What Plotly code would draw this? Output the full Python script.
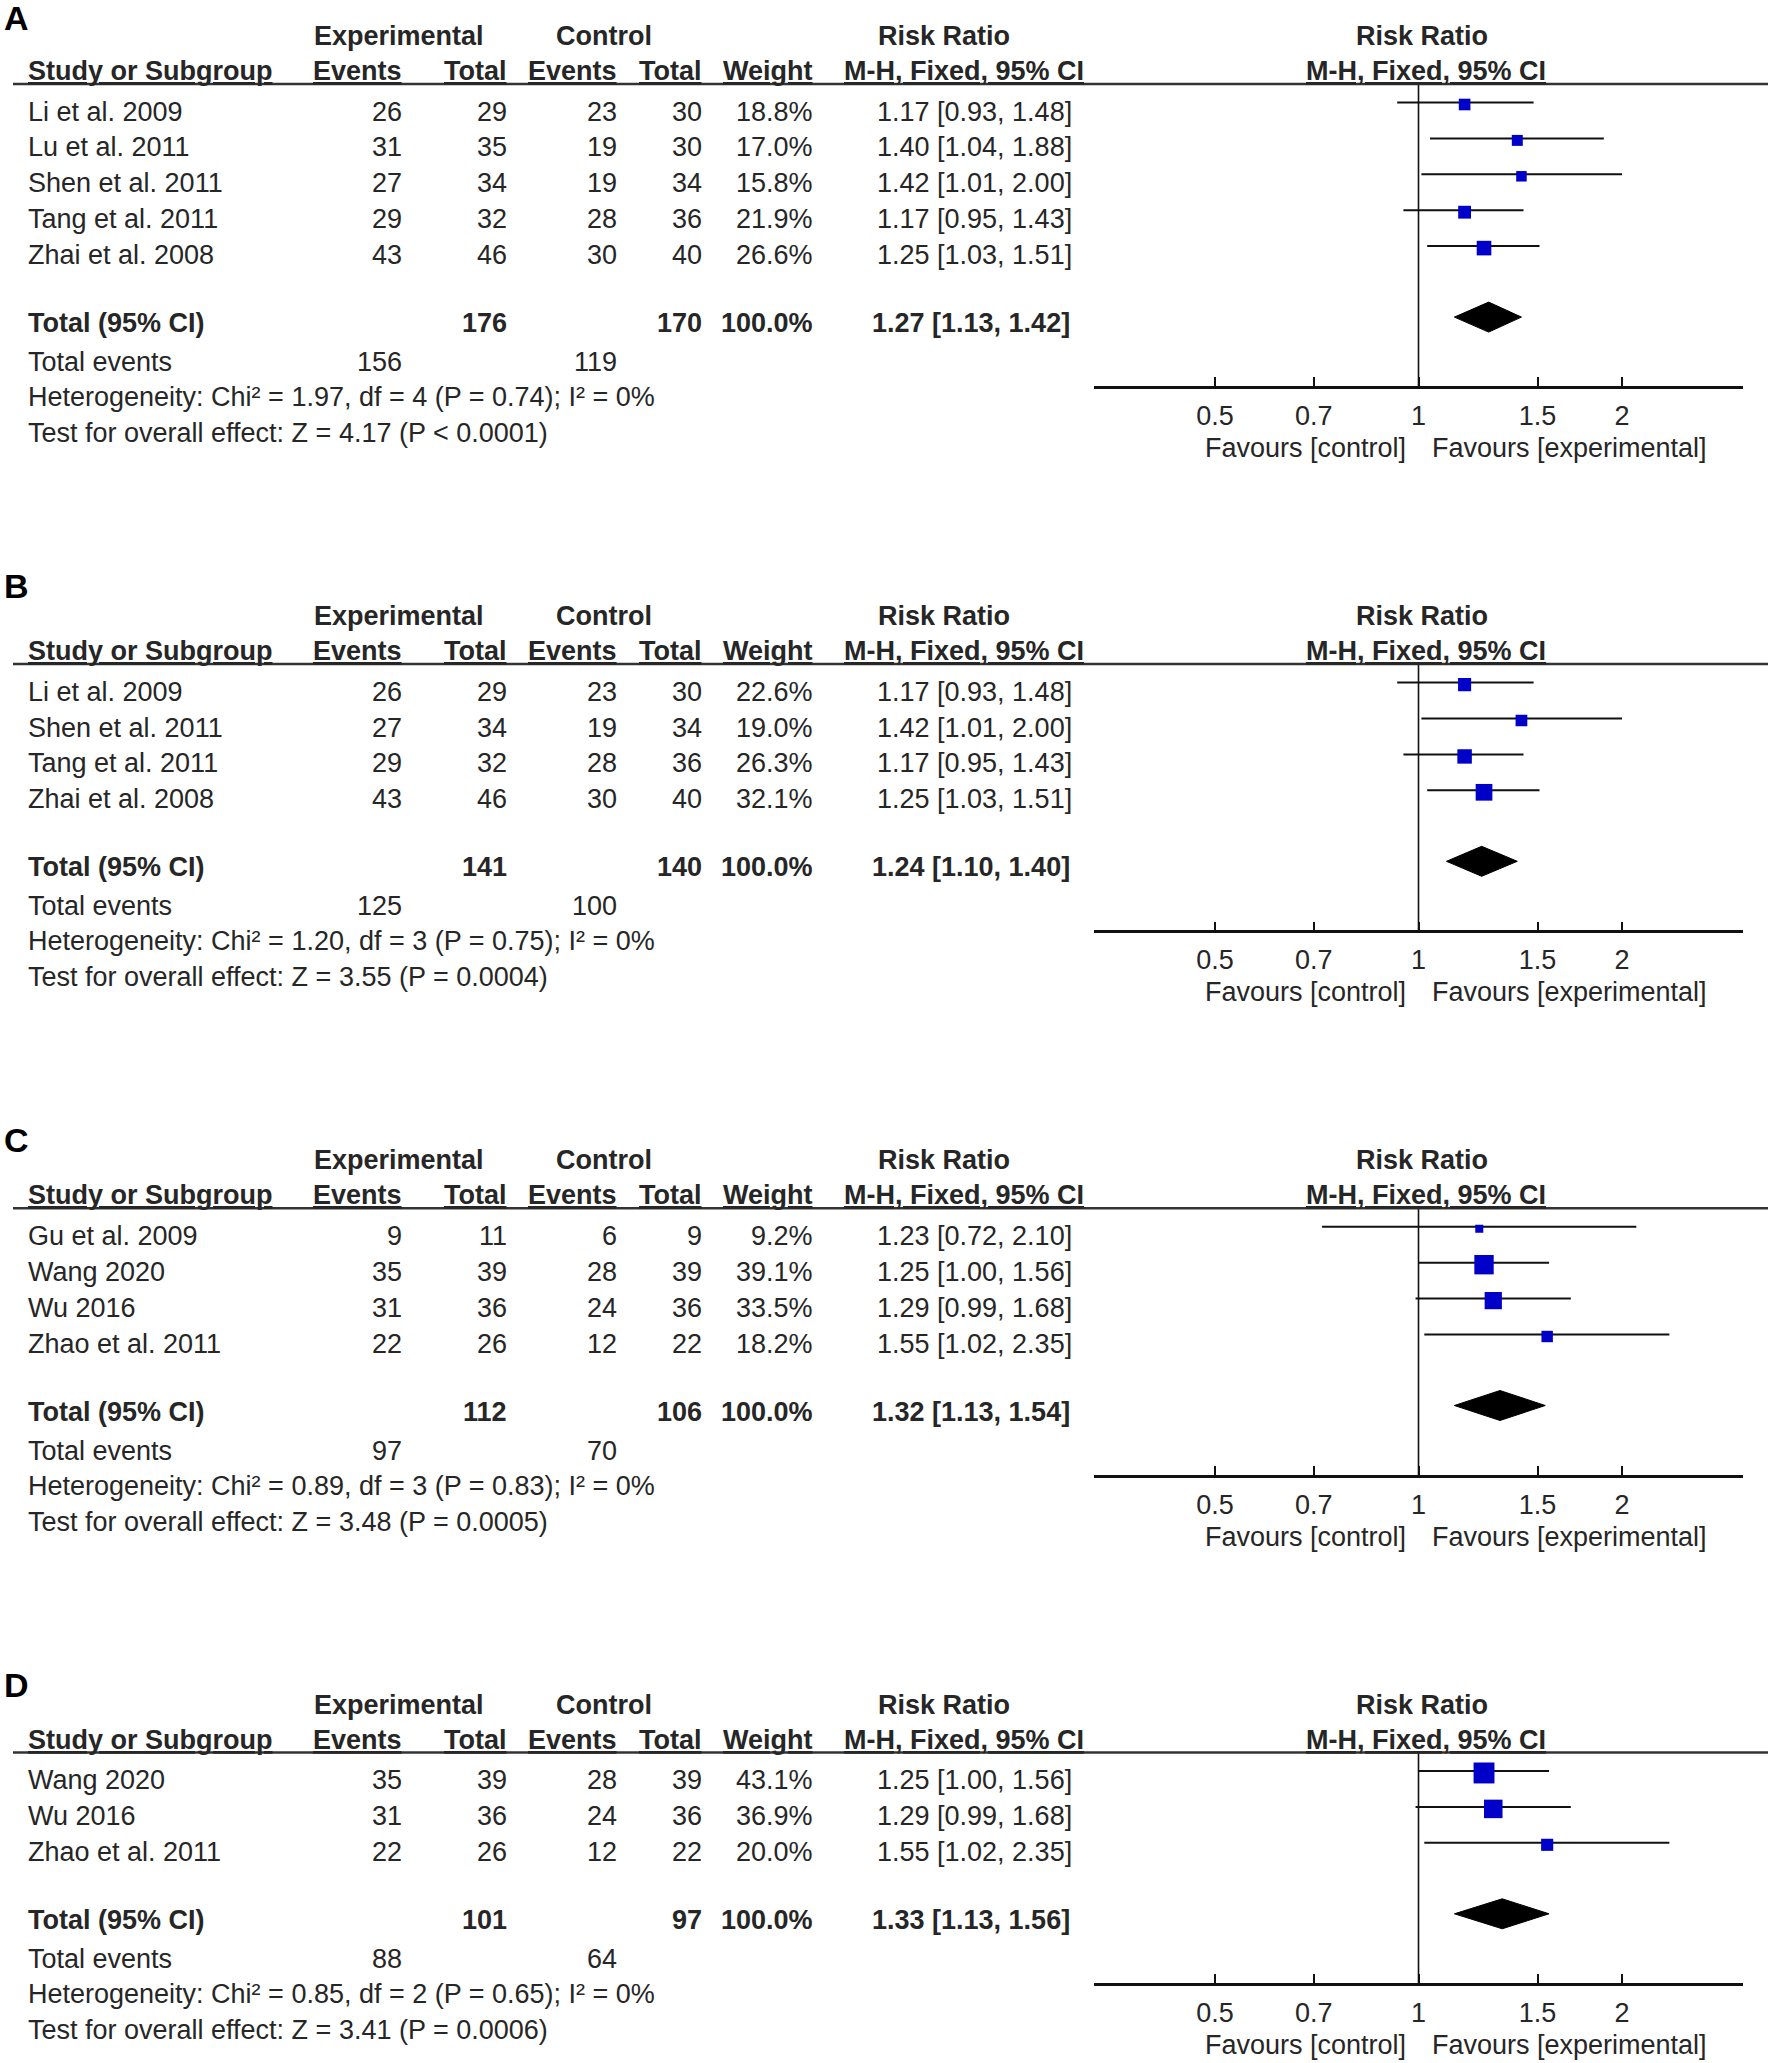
import plotly.graph_objects as go

# ---------------- data ----------------
# Panel A
a_studies = ["Li et al. 2009", "Lu et al. 2011", "Shen et al. 2011", "Tang et al. 2011", "Zhai et al. 2008"]
a_exp_events = [26, 31, 27, 29, 43]
a_exp_total = [29, 35, 34, 32, 46]
a_ctl_events = [23, 19, 19, 28, 30]
a_ctl_total = [30, 30, 34, 36, 40]
a_weight = [18.8, 17.0, 15.8, 21.9, 26.6]
a_rr = [1.17, 1.40, 1.42, 1.17, 1.25]
a_lo = [0.93, 1.04, 1.01, 0.95, 1.03]
a_hi = [1.48, 1.88, 2.00, 1.43, 1.51]
a_summary = [176, 170, 100.0, 1.27, 1.13, 1.42]      # exp total, ctl total, weight, RR, lo, hi
a_events = [156, 119]
a_het = "Heterogeneity: Chi² = 1.97, df = 4 (P = 0.74); I² = 0%"
a_test = "Test for overall effect: Z = 4.17 (P < 0.0001)"

# Panel B
b_studies = ["Li et al. 2009", "Shen et al. 2011", "Tang et al. 2011", "Zhai et al. 2008"]
b_exp_events = [26, 27, 29, 43]
b_exp_total = [29, 34, 32, 46]
b_ctl_events = [23, 19, 28, 30]
b_ctl_total = [30, 34, 36, 40]
b_weight = [22.6, 19.0, 26.3, 32.1]
b_rr = [1.17, 1.42, 1.17, 1.25]
b_lo = [0.93, 1.01, 0.95, 1.03]
b_hi = [1.48, 2.00, 1.43, 1.51]
b_summary = [141, 140, 100.0, 1.24, 1.10, 1.40]
b_events = [125, 100]
b_het = "Heterogeneity: Chi² = 1.20, df = 3 (P = 0.75); I² = 0%"
b_test = "Test for overall effect: Z = 3.55 (P = 0.0004)"

# Panel C
c_studies = ["Gu et al. 2009", "Wang 2020", "Wu 2016", "Zhao et al. 2011"]
c_exp_events = [9, 35, 31, 22]
c_exp_total = [11, 39, 36, 26]
c_ctl_events = [6, 28, 24, 12]
c_ctl_total = [9, 39, 36, 22]
c_weight = [9.2, 39.1, 33.5, 18.2]
c_rr = [1.23, 1.25, 1.29, 1.55]
c_lo = [0.72, 1.00, 0.99, 1.02]
c_hi = [2.10, 1.56, 1.68, 2.35]
c_summary = [112, 106, 100.0, 1.32, 1.13, 1.54]
c_events = [97, 70]
c_het = "Heterogeneity: Chi² = 0.89, df = 3 (P = 0.83); I² = 0%"
c_test = "Test for overall effect: Z = 3.48 (P = 0.0005)"

# Panel D
d_studies = ["Wang 2020", "Wu 2016", "Zhao et al. 2011"]
d_exp_events = [35, 31, 22]
d_exp_total = [39, 36, 26]
d_ctl_events = [28, 24, 12]
d_ctl_total = [39, 36, 22]
d_weight = [43.1, 36.9, 20.0]
d_rr = [1.25, 1.29, 1.55]
d_lo = [1.00, 0.99, 1.02]
d_hi = [1.56, 1.68, 2.35]
d_summary = [101, 97, 100.0, 1.33, 1.13, 1.56]
d_events = [88, 64]
d_het = "Heterogeneity: Chi² = 0.85, df = 2 (P = 0.65); I² = 0%"
d_test = "Test for overall effect: Z = 3.41 (P = 0.0006)"

panel_labels = ["A", "B", "C", "D"]
tick_vals = [0.5, 0.7, 1, 1.5, 2]
tick_text = ["0.5", "0.7", "1", "1.5", "2"]

panels = [
    (a_studies, a_exp_events, a_exp_total, a_ctl_events, a_ctl_total, a_weight, a_rr, a_lo, a_hi, a_summary, a_events, a_het, a_test),
    (b_studies, b_exp_events, b_exp_total, b_ctl_events, b_ctl_total, b_weight, b_rr, b_lo, b_hi, b_summary, b_events, b_het, b_test),
    (c_studies, c_exp_events, c_exp_total, c_ctl_events, c_ctl_total, c_weight, c_rr, c_lo, c_hi, c_summary, c_events, c_het, c_test),
    (d_studies, d_exp_events, d_exp_total, d_ctl_events, d_ctl_total, d_weight, d_rr, d_lo, d_hi, d_summary, d_events, d_het, d_test),
]

# ---------------- layout constants (pixels) ----------------
W, HT = 1772, 2063
FONT = "Liberation Sans, Arial, Helvetica, sans-serif"
TXT = "#262626"
FS = 27
BLUE = "#0000C8"
LABEL_DY = [-66, -78, -68, -68]

FIRST_ROW = 27.5
PITCH = 35.9
TOTAL_GAP = 68
AXIS_GAP = 64
PANEL_GAP = 277

X_NAME = 27
X_EXP_EV = 403
X_EXP_TOT = 508
X_CTL_EV = 618
X_CTL_TOT = 703
X_WEIGHT = 814
X_CI = 974
X_RR_HDR = 944
X_MH_HDR = 964
X_FOREST_HDR = 1422
X_FOREST_MH = 1426
FOREST_DOM = [1094 / W, 1743 / W]
LOG_RANGE = [-0.48, 0.48]

fig = go.Figure()
annotations = []
shapes = []


def ann(text, xpx, ypx, yref, anchor="left", bold=False, size=FS, color=TXT, under=False):
    t = text
    if under:
        t = f"<u>{t}</u>"
    if bold:
        t = f"<b>{t}</b>"
    annotations.append(dict(text=t, x=xpx / W, xref="paper", y=ypx, yref=yref,
                            xanchor=anchor, yanchor="middle", showarrow=False,
                            font=dict(family=FONT, size=size, color=color), borderpad=0))


H = 84.0
for j, p in enumerate(panels):
    (studies, e_ev, e_tot, c_ev, c_tot, wts, rr, lo, hi, summ, evts, het, test) = p
    n = len(studies)
    k = j + 1
    ysuf = "" if k == 1 else str(k)
    yref = "y" + ysuf
    rows = [H + FIRST_ROW + PITCH * i for i in range(n)]
    y_total = rows[-1] + TOTAL_GAP
    y_axis = y_total + AXIS_GAP
    top = max(0.0, H - 100)
    bot = min(float(HT), y_axis + 95)

    fig.update_layout(**{
        "yaxis" + ysuf: dict(domain=[1 - bot / HT, 1 - top / HT], range=[bot, top], visible=False,
                             fixedrange=True),
        "xaxis" + ysuf: dict(type="log", range=LOG_RANGE, domain=FOREST_DOM, anchor="free",
                             position=1 - y_axis / HT, showline=True, linewidth=2.5, linecolor="#111111",
                             ticks="inside", ticklen=9, tickwidth=2, tickcolor="#111111",
                             tickvals=tick_vals, ticktext=tick_text, showgrid=False, zeroline=False,
                             tickfont=dict(family=FONT, size=FS, color=TXT), ticklabelstandoff=4,
                             fixedrange=True),
    })
    xa = "x" + ysuf

    # panel label
    ann(panel_labels[j], 3, H + LABEL_DY[j], yref, bold=True, size=34, color="#000000")
    # header row 1
    hy1 = H - 48
    ann("Experimental", 399, hy1, yref, anchor="center", bold=True)
    ann("Control", 604, hy1, yref, anchor="center", bold=True)
    ann("Risk Ratio", X_RR_HDR, hy1, yref, anchor="center", bold=True)
    ann("Risk Ratio", X_FOREST_HDR, hy1, yref, anchor="center", bold=True)
    # header row 2
    hy2 = H - 13
    ann("Study or Subgroup", X_NAME, hy2, yref, bold=True, under=True)
    ann("Events", X_EXP_EV, hy2, yref, anchor="right", bold=True, under=True)
    ann("Total", X_EXP_TOT, hy2, yref, anchor="right", bold=True, under=True)
    ann("Events", X_CTL_EV, hy2, yref, anchor="right", bold=True, under=True)
    ann("Total", X_CTL_TOT, hy2, yref, anchor="right", bold=True, under=True)
    ann("Weight", X_WEIGHT, hy2, yref, anchor="right", bold=True, under=True)
    ann("M-H, Fixed, 95% CI", X_MH_HDR, hy2, yref, anchor="center", bold=True, under=True)
    ann("M-H, Fixed, 95% CI", X_FOREST_MH, hy2, yref, anchor="center", bold=True, under=True)
    shapes.append(dict(type="line", xref="paper", x0=13 / W, x1=1768 / W, yref=yref, y0=H, y1=H,
                       line=dict(color="#333333", width=2.5)))

    # study rows
    for i in range(n):
        y = rows[i]
        ann(studies[i], X_NAME, y, yref)
        ann(str(e_ev[i]), X_EXP_EV, y, yref, anchor="right")
        ann(str(e_tot[i]), X_EXP_TOT, y, yref, anchor="right")
        ann(str(c_ev[i]), X_CTL_EV, y, yref, anchor="right")
        ann(str(c_tot[i]), X_CTL_TOT, y, yref, anchor="right")
        ann(f"{wts[i]:.1f}%", X_WEIGHT, y, yref, anchor="right")
        ann(f"{rr[i]:.2f} [{lo[i]:.2f}, {hi[i]:.2f}]", X_CI, y, yref, anchor="center")

    # totals
    ann("Total (95% CI)", X_NAME, y_total, yref, bold=True)
    ann(str(summ[0]), X_EXP_TOT, y_total, yref, anchor="right", bold=True)
    ann(str(summ[1]), X_CTL_TOT, y_total, yref, anchor="right", bold=True)
    ann(f"{summ[2]:.1f}%", X_WEIGHT, y_total, yref, anchor="right", bold=True)
    ann(f"{summ[3]:.2f} [{summ[4]:.2f}, {summ[5]:.2f}]", X_CI - 3, y_total, yref, anchor="center", bold=True)
    ann("Total events", X_NAME, y_total + 39, yref)
    ann(str(evts[0]), X_EXP_EV, y_total + 39, yref, anchor="right")
    ann(str(evts[1]), X_CTL_EV, y_total + 39, yref, anchor="right")
    ann(het, X_NAME, y_total + 74, yref)
    ann(test, X_NAME, y_total + 110, yref)

    # favours labels
    annotations.append(dict(text="Favours [control]", x=0, xref=xa, y=y_axis + 61, yref=yref,
                            xanchor="right", yanchor="middle", xshift=-12, showarrow=False,
                            font=dict(family=FONT, size=FS, color=TXT), borderpad=0))
    annotations.append(dict(text="Favours [experimental]", x=0, xref=xa, y=y_axis + 61, yref=yref,
                            xanchor="left", yanchor="middle", xshift=12, showarrow=False,
                            font=dict(family=FONT, size=FS, color=TXT), borderpad=0))

    # vertical no-effect line
    fig.add_trace(go.Scatter(x=[1, 1], y=[H, y_axis], mode="lines", xaxis=xa, yaxis=yref,
                             line=dict(color="#111111", width=1.6), hoverinfo="skip"))
    # CI lines
    cx, cy = [], []
    for i in range(n):
        cx += [lo[i], hi[i], None]
        cy += [rows[i] - 9, rows[i] - 9, None]
    fig.add_trace(go.Scatter(x=cx, y=cy, mode="lines", xaxis=xa, yaxis=yref,
                             line=dict(color="#111111", width=2), hoverinfo="skip"))
    # squares
    fig.add_trace(go.Scatter(x=rr, y=[r - 7 for r in rows], mode="markers", xaxis=xa, yaxis=yref,
                             marker=dict(symbol="square", color=BLUE, opacity=1,
                                         size=[4.5 + 0.38 * w for w in wts],
                                         line=dict(width=0)), hoverinfo="skip"))
    # diamond
    yd = y_total - 6
    fig.add_trace(go.Scatter(x=[summ[4], summ[3], summ[5], summ[3], summ[4]],
                             y=[yd, yd - 15, yd, yd + 15, yd], mode="lines", fill="toself",
                             fillcolor="#000000", line=dict(color="#000000", width=1),
                             xaxis=xa, yaxis=yref, hoverinfo="skip"))

    H = y_axis + PANEL_GAP

fig.update_layout(width=W, height=HT, margin=dict(l=0, r=0, t=0, b=0), showlegend=False,
                  paper_bgcolor="white", plot_bgcolor="rgba(0,0,0,0)",
                  annotations=annotations, shapes=shapes,
                  font=dict(family=FONT, size=FS, color=TXT))

fig.write_html("out.html", config={"displayModeBar": False},
               post_script="document.body.style.margin='0';document.body.style.overflow='hidden';")
